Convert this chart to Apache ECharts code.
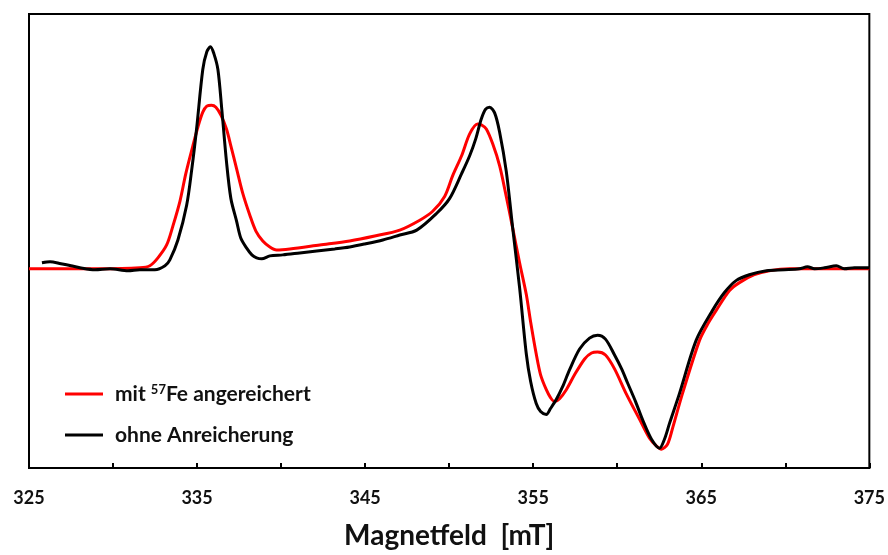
<!DOCTYPE html>
<html>
<head>
<meta charset="utf-8">
<script src="https://cdn.jsdelivr.net/npm/echarts@6/dist/echarts.min.js"></script>
<style>html,body{margin:0;padding:0;background:#fff}#c{width:888px;height:555px}</style>
</head>
<body>
<div id="c"></div>
<script>
// Magnetic field [mT] and signal (arbitrary units, baseline = 0)
const redField = [325.00,329.22,331.60,332.19,332.67,333.19,333.56,333.98,334.33,334.75,335.05,335.34,335.58,335.86,336.12,336.42,336.75,337.01,337.35,337.72,338.14,338.50,338.91,339.33,339.73,340.52,342.30,344.08,345.57,347.06,348.25,349.02,349.73,350.21,350.74,351.22,351.69,351.93,352.21,352.59,353.00,353.36,353.78,354.19,354.59,354.85,355.18,355.44,355.78,356.03,356.27,356.57,356.97,357.46,358.06,358.47,358.83,359.30,359.84,360.53,361.33,361.92,362.34,362.63,362.99,363.29,363.88,364.90,365.41,365.89,366.68,367.27,368.16,369.05,370.24,375.00];
const redSignal = [0,0,1,3,11,24,43,68,96,124,143,158,164,165,163,155,141,124,101,76,54,38,28,22,19,20,24,28,33,39,49,58,73,94,114,136,146,145,141,126,104,76,41,6,-26,-54,-86,-107,-122,-130,-134,-131,-122,-107,-91,-85,-84,-87,-101,-126,-152,-171,-179,-182,-177,-161,-126,-72,-55,-42,-22,-14,-6,-2,0,0];

const blackField = [325.77,326.25,326.90,327.50,328.03,328.92,329.82,330.89,331.60,332.49,333.09,333.38,333.86,334.38,334.69,334.97,335.34,335.58,335.80,336.00,336.24,336.47,336.75,337.01,337.35,337.60,337.94,338.26,338.54,338.85,339.33,340.10,341.11,342.12,343.19,344.08,344.98,346.05,347.06,348.07,349.26,350.03,350.74,351.22,351.58,351.91,352.17,352.41,352.71,353.00,353.40,353.78,354.19,354.59,354.85,355.18,355.44,355.78,356.03,356.37,356.75,357.16,357.76,358.35,358.83,359.30,359.84,360.26,360.61,361.09,361.50,362.04,362.52,362.81,363.11,363.70,364.70,365.67,366.38,367.07,367.86,368.88,369.95,370.84,371.32,371.74,372.33,373.04,373.51,374.11,374.82,375.00];
const blackSignal = [6,7,5,3,1,-1,0,-2,-1,-1,3,9,29,64,101,141,201,219,224,217,201,161,108,71,48,31,21,14,11,10,13,14,16,18,20,22,25,29,34,39,56,71,96,114,131,151,161,163,157,138,98,41,-19,-86,-114,-136,-144,-147,-141,-132,-119,-102,-81,-70,-67,-71,-87,-101,-115,-134,-152,-172,-181,-172,-156,-126,-72,-42,-24,-12,-6,-2,-1,0,2,0,1,3,0,1,1,1];

const seriesNames = ['mit {sup|57}Fe angereichert', 'ohne Anreicherung'];
const xTicks = [325, 335, 345, 355, 365, 375];

const zip = (a, b) => a.map((v, i) => [v, b[i]]);

const chart = echarts.init(document.getElementById('c'));
chart.setOption({
  animation: false,
  backgroundColor: '#fff',
  grid: { left: 29, right: 17, top: 14, bottom: 83, show: true, borderColor: '#000', borderWidth: 2, backgroundColor: 'transparent' },
  legend: {
    orient: 'vertical', left: 60, top: 378, itemWidth: 38, itemHeight: 3, itemGap: 19,
    icon: 'rect',
    data: ['red', 'black'],
    formatter: n => n === 'red' ? seriesNames[0] : seriesNames[1],
    textStyle: {
      fontFamily: 'Lato', fontWeight: 'bold', fontSize: 21, color: '#111', lineHeight: 22, padding: [0, 0, 0, 7],
      rich: { sup: { fontSize: 13, fontWeight: 'bold', fontFamily: 'Lato', verticalAlign: 'top', lineHeight: 22, color: '#111' } }
    }
  },
  xAxis: {
    type: 'value', min: 325, max: 375, interval: 5,
    axisLine: { show: true, onZero: false, lineStyle: { color: '#000', width: 2 } },
    axisTick: { show: true, inside: true, length: 5, lineStyle: { color: '#000', width: 2 } },
    splitLine: { show: false },
    axisLabel: {
      margin: 21, fontFamily: 'Lato', fontWeight: 'bold', fontSize: 18, color: '#111',
      formatter: v => xTicks.includes(v) ? String(v) : ''
    },
    name: 'Magnetfeld  [mT]', nameLocation: 'middle', nameGap: 54,
    nameTextStyle: { fontFamily: 'Lato', fontWeight: 'bold', fontSize: 28, color: '#111' }
  },
  yAxis: {
    type: 'value', min: -201, max: 257,
    axisLine: { show: false }, axisTick: { show: false }, axisLabel: { show: false }, splitLine: { show: false }
  },
  series: [
    { name: 'red', type: 'line', data: zip(redField, redSignal), showSymbol: false, smooth: 0.3, color: '#ff0000', lineStyle: { color: '#ff0000', width: 3 } },
    { name: 'black', type: 'line', data: zip(blackField, blackSignal), showSymbol: false, smooth: 0.3, color: '#000', lineStyle: { color: '#000', width: 3 } }
  ]
});
</script>
</body>
</html>
